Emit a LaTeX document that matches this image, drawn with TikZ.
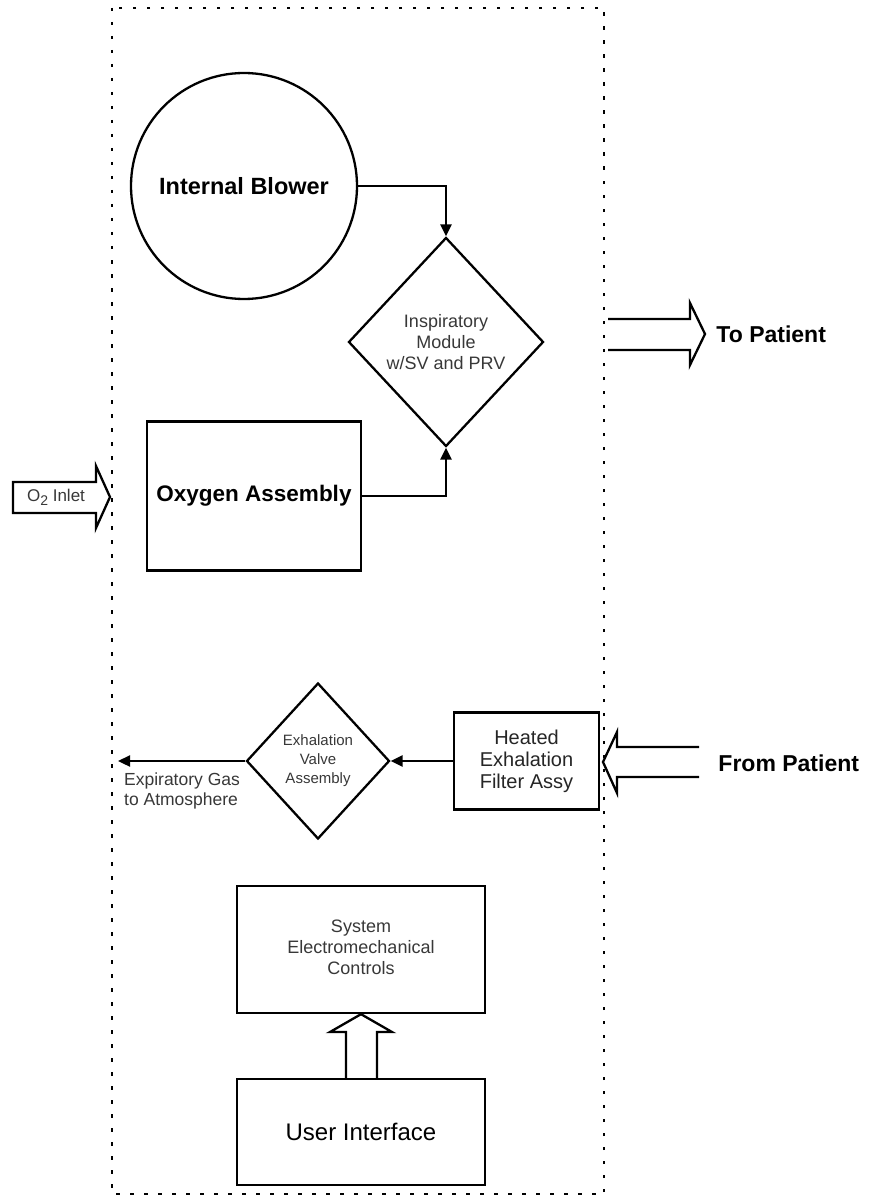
\documentclass[tikz,border=0pt]{standalone}
\usepackage{fontspec}
\setmainfont{Liberation Sans}
\usetikzlibrary{shapes.geometric,arrows.meta}
\begin{document}
\begin{tikzpicture}[x=1pt,y=-1pt,
  line width=2.3pt,
  boxnode/.style={draw,rectangle,inner sep=0pt,align=center},
  dianode/.style={draw,diamond,inner sep=0pt,align=center},
  bigtext/.style={font=\fontsize{23.5}{27}\selectfont\bfseries},
  smalltext/.style={text=black!78},
  flow/.style={-{Triangle[length=12pt,width=11pt]},line width=2.3pt},
  hollow/.style={line width=2.3pt,line join=miter},
  boundary/.style={line width=2.4pt,dash pattern=on 3.5pt off 10.5pt}
]
\useasboundingbox (0,0) rectangle (878,1198);
\fill[white] (0,0) rectangle (878,1198);

% dotted enclosure
\draw[boundary] (112,8) rectangle (604,1194);

% main nodes
\node[draw,circle,minimum size=226pt,inner sep=0pt,bigtext] (blower) at (244,186) {Internal Blower};
\node[dianode,minimum width=195pt,minimum height=209pt,smalltext,
      font=\fontsize{18}{21}\selectfont] (insp) at (446,342) {Inspiratory\\Module\\w/SV and PRV};
\node[boxnode,minimum width=214pt,minimum height=149pt,
      font=\fontsize{22.5}{27}\selectfont\bfseries] (oxy) at (254,496) {Oxygen Assembly};

\node[dianode,minimum width=143pt,minimum height=156pt,smalltext,
      font=\fontsize{15}{19}\selectfont] (exv) at (318,761) {Exhalation\\Valve\\Assembly};
\node[boxnode,minimum width=145pt,minimum height=97pt,
      font=\fontsize{20}{22}\selectfont,text=black!85] (filter) at (526.5,761) {Heated\\Exhalation\\Filter Assy};

\node[boxnode,minimum width=248pt,minimum height=127pt,smalltext,
      font=\fontsize{18}{21}\selectfont] (sec) at (361,949.5) {\raisebox{5pt}{\begin{tabular}{@{}c@{}}System\\Electromechanical\\Controls\end{tabular}}};
\node[boxnode,minimum width=248pt,minimum height=106pt,
      font=\fontsize{24}{28}\selectfont] (ui) at (361,1132) {User Interface};

% labels
\node[anchor=west,font=\fontsize{23}{27}\selectfont\bfseries] (topat) at (712,334) {To Patient};
\node[anchor=west,font=\fontsize{23}{27}\selectfont\bfseries] (frompat) at (714,763) {From Patient};
\node[anchor=north west,align=left,smalltext,inner sep=0pt,
      font=\fontsize{17.5}{20}\selectfont] (expgas) at (123,772) {Expiratory Gas\\to Atmosphere};
\node[smalltext,inner sep=0pt,font=\fontsize{17}{20}\selectfont] (o2) at (56,497) {O\raisebox{-4pt}{\fontsize{14}{14}\selectfont 2} Inlet};

% connectors
\draw[flow] (blower.east) -| (insp.north);
\draw[flow] (oxy.east) -| (insp.south);
\draw[flow] (filter.west) -- (exv.east);
\coordinate (atm) at (118,761);
\draw[flow] (exv.west) -- (atm);

% hollow arrows
\draw[hollow] (13,482) -- (96,482) -- (96,466) -- (110,497) -- (96,528) -- (96,513) -- (13,513) -- cycle;
\draw[hollow] (608,319) -- (690,319) -- (690,303) -- (705,334) -- (690,365) -- (690,350) -- (608,350);
\draw[hollow] (699,747) -- (617,747) -- (617,732) -- (603,762) -- (617,793) -- (617,777) -- (699,777);
\draw[hollow] (346,1079) -- (346,1032) -- (330,1032) -- (sec.south) -- (392,1032) -- (377,1032) -- (377,1079);
\end{tikzpicture}
\end{document}
